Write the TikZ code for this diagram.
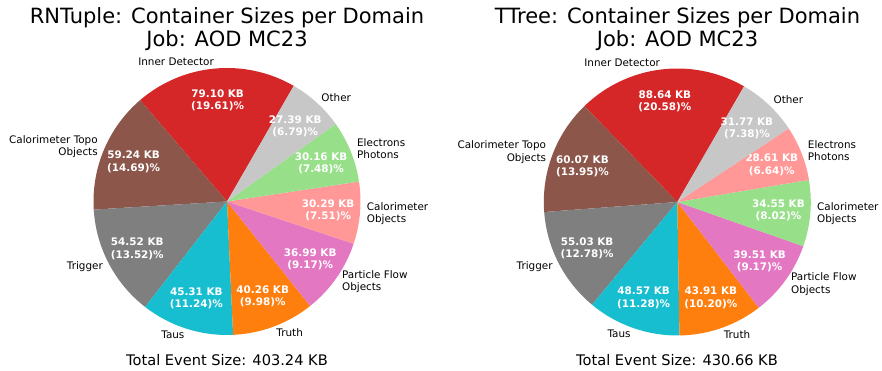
\documentclass[tikz,border=0pt]{standalone}
\usepackage{fontspec}
\setmainfont{DejaVu Sans}
\definecolor{cRed}{HTML}{D62728}
\definecolor{cBrown}{HTML}{8C564B}
\definecolor{cGray}{HTML}{7F7F7F}
\definecolor{cCyan}{HTML}{17BECF}
\definecolor{cOrange}{HTML}{FF7F0E}
\definecolor{cPink}{HTML}{E377C2}
\definecolor{cLPink}{HTML}{FF9896}
\definecolor{cLGreen}{HTML}{98DF8A}
\definecolor{cLGray}{HTML}{C7C7C7}
\def\pieR{133.5}
\def\lblR{140.2}
\def\pctR{101.5}
\tikzset{
  lbl-east/.style={anchor=east, align=right, inner sep=0pt, font=\fontsize{10.4}{12.2}\selectfont},
  lbl-west/.style={anchor=west, align=left, inner sep=0pt, font=\fontsize{10.4}{12.2}\selectfont},
  pct/.style={text=white, align=center, inner sep=0pt, font=\bfseries\fontsize{10.4}{12.2}\selectfont},
  ttl/.style={anchor=base, inner sep=0pt, font=\fontsize{21}{25}\selectfont},
  total/.style={anchor=base, inner sep=0pt, font=\fontsize{14.6}{17}\selectfont}
}
\newcommand\pieslice[8]{%
  \fill[#4] (#1) -- ++(#2:\pieR) arc[start angle=#2, end angle=#3, radius=\pieR] -- cycle;
  \pgfmathsetmacro\midang{(#2+#3)/2}%
  \path (#1) ++(\midang:\lblR) node[lbl-#7] (#5-lbl) {#6};
  \path (#1) ++(\midang:\pctR) node[pct] (#5-pct) {#8};
}
\begin{document}
\begin{tikzpicture}[x=1pt,y=1pt]
\useasboundingbox (0,0) rectangle (882,-371);
\fill[white] (0,0) rectangle (882,-371);
\coordinate (cL) at (227,-201.5);
\coordinate (cR) at (677.3,-202);
% titles
\node[ttl] (tL1) at (227,-24) {RNTuple: Container Sizes per Domain};
\node[ttl] (tL2) at (227,-47) {Job: AOD MC23};
\node[ttl] (tR1) at (677.5,-24) {TTree: Container Sizes per Domain};
\node[ttl] (tR2) at (677.5,-47) {Job: AOD MC23};
% left pie
\pieslice{cL}{60}{130.596}{cRed}{L-inner}{Inner Detector}{east}{79.10 KB\\(19.61)\%}
\pieslice{cL}{130.596}{183.48}{cBrown}{L-topo}{Calorimeter Topo\\Objects}{east}{59.24 KB\\(14.69)\%}
\pieslice{cL}{183.48}{232.152}{cGray}{L-trig}{Trigger}{east}{54.52 KB\\(13.52)\%}
\pieslice{cL}{232.152}{272.616}{cCyan}{L-taus}{Taus}{east}{45.31 KB\\(11.24)\%}
\pieslice{cL}{272.616}{308.544}{cOrange}{L-truth}{Truth}{west}{40.26 KB\\(9.98)\%}
\pieslice{cL}{308.544}{341.556}{cPink}{L-pflow}{Particle Flow\\Objects}{west}{36.99 KB\\(9.17)\%}
\pieslice{cL}{341.556}{368.592}{cLPink}{L-calo}{Calorimeter\\Objects}{west}{30.29 KB\\(7.51)\%}
\pieslice{cL}{368.592}{395.52}{cLGreen}{L-egam}{Electrons\\Photons}{west}{30.16 KB\\(7.48)\%}
\pieslice{cL}{395.52}{420}{cLGray}{L-other}{Other}{west}{27.39 KB\\(6.79)\%}
% right pie
\pieslice{cR}{60}{134.088}{cRed}{R-inner}{Inner Detector}{east}{88.64 KB\\(20.58)\%}
\pieslice{cR}{134.088}{184.308}{cBrown}{R-topo}{Calorimeter Topo\\Objects}{east}{60.07 KB\\(13.95)\%}
\pieslice{cR}{184.308}{230.316}{cGray}{R-trig}{Trigger}{east}{55.03 KB\\(12.78)\%}
\pieslice{cR}{230.316}{270.924}{cCyan}{R-taus}{Taus}{east}{48.57 KB\\(11.28)\%}
\pieslice{cR}{270.924}{307.644}{cOrange}{R-truth}{Truth}{west}{43.91 KB\\(10.20)\%}
\pieslice{cR}{307.644}{340.656}{cPink}{R-pflow}{Particle Flow\\Objects}{west}{39.51 KB\\(9.17)\%}
\pieslice{cR}{340.656}{369.528}{cLGreen}{R-calo}{Calorimeter\\Objects}{west}{34.55 KB\\(8.02)\%}
\pieslice{cR}{369.528}{393.432}{cLPink}{R-egam}{Electrons\\Photons}{west}{28.61 KB\\(6.64)\%}
\pieslice{cR}{393.432}{420}{cLGray}{R-other}{Other}{west}{31.77 KB\\(7.38)\%}
% totals
\node[total] (totL) at (227,-365.5) {Total Event Size: 403.24 KB};
\node[total] (totR) at (677,-365.5) {Total Event Size: 430.66 KB};
\end{tikzpicture}
\end{document}
